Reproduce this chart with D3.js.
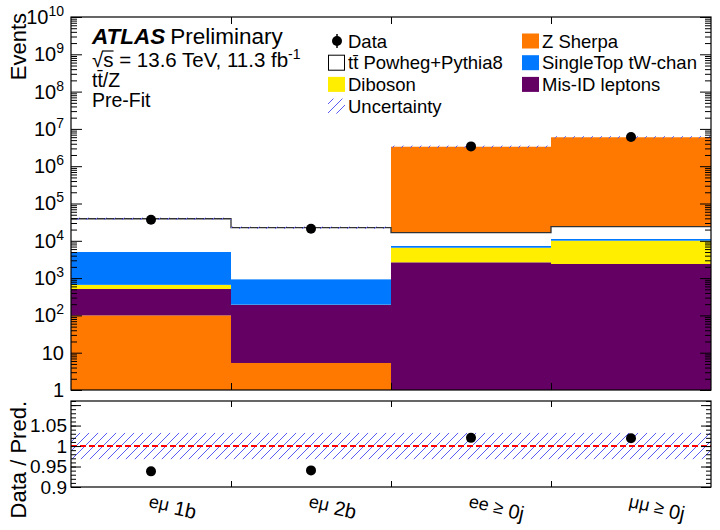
<!DOCTYPE html>
<html>
<head>
<meta charset="utf-8">
<script src="https://cdn.jsdelivr.net/npm/d3@7"></script>
<style>
body{margin:0;background:#fff}
svg{display:block}
text{font-family:"Liberation Sans",Arial,Helvetica,sans-serif;fill:#000}
</style>
</head>
<body>
<svg id="chart" width="720" height="530"></svg>
<script>
// bins, per sample yields, data counts
const categories = ["eμ 1b", "eμ 2b", "ee ≥ 0j", "μμ ≥ 0j"];
const zSherpa   = [100, 5.3, 3.31e6, 5.94e6];
const misID     = [410, 185, 2650, 2390];
const diboson   = [150, 3, 3880, 7700];
const singleTop = [4350, 740, 720, 1100];
const ttbar     = [34000, 21500, 9250, 12700];
const dataCounts = [36600, 21100, 3393000, 6077000];
const relUnc = [0.032, 0.032, 0.032, 0.032];
// stacking order differs per bin (bottom -> top)
const stackOrder = [
	["z", "misid", "dib", "tw", "tt"],
	["z", "misid", "dib", "tw", "tt"],
	["misid", "dib", "tw", "tt", "z"],
	["misid", "dib", "tw", "tt", "z"]
];
const yMajor = [1, 10, 1e2, 1e3, 1e4, 1e5, 1e6, 1e7, 1e8, 1e9, 1e10];
const ratioMajor = [0.9, 0.95, 1, 1.05, 1.1];

const samples = {
	z:     {vals: zSherpa,   color: "#ff7800", label: "Z Sherpa"},
	misid: {vals: misID,     color: "#640064", label: "Mis-ID leptons"},
	dib:   {vals: diboson,   color: "#ffee00", label: "Diboson"},
	tw:    {vals: singleTop, color: "#0078ff", label: "SingleTop tW-chan"},
	tt:    {vals: ttbar,     color: "#ffffff", label: "tt̄ Powheg+Pythia8"}
};

const L = 71, R = 711, T = 17, B = 390, RT = 401, RB = 487;
const svg = d3.select("#chart");

const x = d3.scaleBand().domain(categories).range([L, R]);
const xi = d3.scaleLinear().domain([0, 4]).range([L, R]);
const y = d3.scaleLog().domain([1, 1e10]).range([B, T]);
const yr = d3.scaleLinear().domain([0.9, 1.11]).range([RB, RT]);

// hatch pattern
const defs = svg.append("defs");
defs.append("pattern").attr("id", "hatch").attr("patternUnits", "userSpaceOnUse")
	.attr("width", 9).attr("height", 9)
	.append("path").attr("d", "M-1,10 L10,-1 M-1,1 L1,-1 M8,10 L10,8")
	.attr("stroke", "#5a5af5").attr("stroke-width", 1);
defs.append("clipPath").attr("id", "clipMain").append("rect")
	.attr("x", L).attr("y", T).attr("width", R - L).attr("height", B - T);

// stacked bars
const totals = categories.map((c, i) => stackOrder[i].reduce((s, k) => s + samples[k].vals[i], 0));
const gMain = svg.append("g").attr("clip-path", "url(#clipMain)");
let ttTop = [];
categories.forEach((c, i) => {
	let cum = 0;
	stackOrder[i].forEach(k => {
		const lo = cum;
		cum += samples[k].vals[i];
		const y0 = lo <= 1 ? B : y(lo);
		gMain.append("rect")
			.attr("x", x(c)).attr("width", x.bandwidth())
			.attr("y", y(cum)).attr("height", y0 - y(cum))
			.attr("fill", samples[k].color);
		if (k === "tt") ttTop.push(cum);
	});
});

// ttbar outline (black step line)
const stepPts = [];
categories.forEach((c, i) => {
	stepPts.push([x(c), y(ttTop[i])]);
	stepPts.push([x(c) + x.bandwidth(), y(ttTop[i])]);
});
gMain.append("path").attr("d", d3.line()(stepPts))
	.attr("fill", "none").attr("stroke", "#333").attr("stroke-width", 1.3);

// uncertainty band on total
categories.forEach((c, i) => {
	const hi = y(totals[i] * (1 + relUnc[i])), lo = y(totals[i] * (1 - relUnc[i]));
	gMain.append("rect").attr("x", x(c)).attr("width", x.bandwidth())
		.attr("y", hi - 0.6).attr("height", lo - hi + 1.2)
		.attr("fill", "url(#hatch)");
});

// data points
categories.forEach((c, i) => {
	svg.append("circle").attr("cx", x(c) + x.bandwidth() / 2).attr("cy", y(dataCounts[i]))
		.attr("r", 5).attr("fill", "#000");
});

// main axes
const minor = [];
for (let e = 0; e < 10; e++) for (let m = 2; m <= 9; m++) minor.push(m * 10 ** e);

const yAx = svg.append("g").attr("transform", `translate(${L},0)`)
	.call(d3.axisLeft(y).tickValues(yMajor).tickSize(-11).tickSizeOuter(0).tickPadding(7));
yAx.select(".domain").remove();
yAx.selectAll("text").attr("font-size", 20).style("font-family", null).each(function(d) {
	const t = d3.select(this);
	const e = Math.round(Math.log10(d));
	t.text(null);
	if (e === 0) t.text("1");
	else if (e === 1) t.text("10");
	else {
		t.append("tspan").text("10");
		t.append("tspan").attr("font-size", 14).attr("dy", -8).text(e);
	}
});
svg.append("g").attr("transform", `translate(${L},0)`)
	.call(d3.axisLeft(y).tickValues(minor).tickSize(-6).tickFormat("").tickSizeOuter(0))
	.select(".domain").remove();
svg.append("g").attr("transform", `translate(${R},0)`)
	.call(d3.axisRight(y).tickValues(yMajor).tickSize(-11).tickFormat("").tickSizeOuter(0))
	.select(".domain").remove();
svg.append("g").attr("transform", `translate(${R},0)`)
	.call(d3.axisRight(y).tickValues(minor).tickSize(-6).tickFormat("").tickSizeOuter(0))
	.select(".domain").remove();
[[T, d3.axisTop], [B, d3.axisBottom]].forEach(([yy, ax]) => {
	svg.append("g").attr("transform", `translate(0,${yy})`)
		.call(ax(xi).tickValues([1, 2, 3]).tickSize(-7).tickFormat("").tickSizeOuter(0))
		.select(".domain").remove();
});
svg.append("rect").attr("x", L).attr("y", T).attr("width", R - L).attr("height", B - T)
	.attr("fill", "none").attr("stroke", "#000").attr("stroke-width", 1.2);

// ratio panel
const ratio = categories.map((c, i) => dataCounts[i] / totals[i]);
svg.append("rect").attr("x", L).attr("width", R - L)
	.attr("y", yr(1 + relUnc[0])).attr("height", yr(1 - relUnc[0]) - yr(1 + relUnc[0]))
	.attr("fill", "url(#hatch)");
svg.append("line").attr("x1", L).attr("x2", R).attr("y1", yr(1)).attr("y2", yr(1))
	.attr("stroke", "#ff0000").attr("stroke-width", 2).attr("stroke-dasharray", "6,3");
categories.forEach((c, i) => {
	svg.append("circle").attr("cx", x(c) + x.bandwidth() / 2).attr("cy", yr(ratio[i]))
		.attr("r", 5).attr("fill", "#000");
});

const rMinor = d3.range(0.9, 1.111, 0.01);
const ryAx = svg.append("g").attr("transform", `translate(${L},0)`)
	.call(d3.axisLeft(yr).tickValues(ratioMajor).tickSize(-10).tickSizeOuter(0).tickPadding(4)
		.tickFormat(d => d3.format("")(+d.toFixed(2))));
ryAx.select(".domain").remove();
ryAx.selectAll("text").attr("font-size", 19).style("font-family", null);
ryAx.selectAll(".tick").filter(d => d > 1.06).select("text").remove();
svg.append("g").attr("transform", `translate(${L},0)`)
	.call(d3.axisLeft(yr).tickValues(rMinor).tickSize(-5).tickFormat("").tickSizeOuter(0))
	.select(".domain").remove();
svg.append("g").attr("transform", `translate(${R},0)`)
	.call(d3.axisRight(yr).tickValues(ratioMajor).tickSize(-10).tickFormat("").tickSizeOuter(0))
	.select(".domain").remove();
svg.append("g").attr("transform", `translate(${R},0)`)
	.call(d3.axisRight(yr).tickValues(rMinor).tickSize(-5).tickFormat("").tickSizeOuter(0))
	.select(".domain").remove();
[[RT, d3.axisTop], [RB, d3.axisBottom]].forEach(([yy, ax]) => {
	svg.append("g").attr("transform", `translate(0,${yy})`)
		.call(ax(xi).tickValues([1, 2, 3]).tickSize(-6).tickFormat("").tickSizeOuter(0))
		.select(".domain").remove();
});
svg.append("rect").attr("x", L).attr("y", RT).attr("width", R - L).attr("height", RB - RT)
	.attr("fill", "none").attr("stroke", "#000").attr("stroke-width", 1.2);
svg.selectAll(".tick line").attr("stroke", "#000");

// slanted bin labels
categories.forEach(c => {
	const sp = c.lastIndexOf(" ");
	const g = svg.append("g")
		.attr("transform", `translate(${x(c) + x.bandwidth() / 2 - 3},507) rotate(12)`);
	const t = g.append("text");
	t.append("tspan").attr("font-size", 18).text(c.slice(0, sp));
	t.append("tspan").attr("font-size", 20).attr("dy", 2).text(" " + c.slice(sp + 1));
});

// axis titles
svg.append("text").attr("transform", "translate(26,13) rotate(-90)")
	.attr("text-anchor", "end").attr("font-size", 22).text("Events");
svg.append("text").attr("transform", "translate(26,401) rotate(-90)")
	.attr("text-anchor", "end").attr("font-size", 22).text("Data / Pred.");

// ATLAS labels
const lab = svg.append("g");
const l1 = lab.append("text").attr("x", 92).attr("y", 43.5).attr("font-size", 22.5);
l1.append("tspan").attr("font-weight", "bold").attr("font-style", "italic").text("ATLAS");
l1.append("tspan").attr("dx", 5).text("Preliminary");
const l2 = lab.append("text").attr("x", 92).attr("y", 66.5).attr("font-size", 20.5);
l2.append("tspan").text("√s = 13.6 TeV, 11.3 fb");
l2.append("tspan").attr("font-size", 14).attr("dy", -8).text("-1");
const l2n = l2.node();
const sx0 = 92 + l2n.getSubStringLength(0, 1) - 1, sx1 = 92 + l2n.getSubStringLength(0, 2);
lab.append("line").attr("x1", sx0).attr("x2", sx1).attr("y1", 51).attr("y2", 51)
	.attr("stroke", "#000").attr("stroke-width", 1.2);
lab.append("text").attr("x", 92).attr("y", 86.5).attr("font-size", 19.5).text("tt̄/Z");
lab.append("text").attr("x", 92).attr("y", 106.5).attr("font-size", 19.5).text("Pre-Fit");

// legend
const rows = [41, 62.7, 84.4, 106.1];
const leg = svg.append("g").attr("font-size", 18.5);
function legText(xx, yy, s) {
	leg.append("text").attr("x", xx).attr("y", yy + 6.5).text(s);
}
leg.append("line").attr("x1", 337).attr("x2", 337).attr("y1", rows[0] - 7).attr("y2", rows[0] + 7)
	.attr("stroke", "#000").attr("stroke-width", 1.5);
leg.append("circle").attr("cx", 337).attr("cy", rows[0]).attr("r", 5).attr("fill", "#000");
legText(348, rows[0], "Data");
leg.append("rect").attr("x", 328.5).attr("y", rows[1] - 7.5).attr("width", 16).attr("height", 15)
	.attr("fill", "#fff").attr("stroke", "#000").attr("stroke-width", 1);
legText(348, rows[1], samples.tt.label);
leg.append("rect").attr("x", 328).attr("y", rows[2] - 7.5).attr("width", 17).attr("height", 15)
	.attr("fill", samples.dib.color);
legText(348, rows[2], samples.dib.label);
leg.append("rect").attr("x", 328).attr("y", rows[3] - 7.5).attr("width", 17).attr("height", 15)
	.attr("fill", "url(#hatch)");
legText(348, rows[3], "Uncertainty");
["z", "tw", "misid"].forEach((k, j) => {
	leg.append("rect").attr("x", 522).attr("y", rows[j] - 7.5).attr("width", 17).attr("height", 15)
		.attr("fill", samples[k].color);
	legText(542, rows[j], samples[k].label);
});
</script>
</body>
</html>
